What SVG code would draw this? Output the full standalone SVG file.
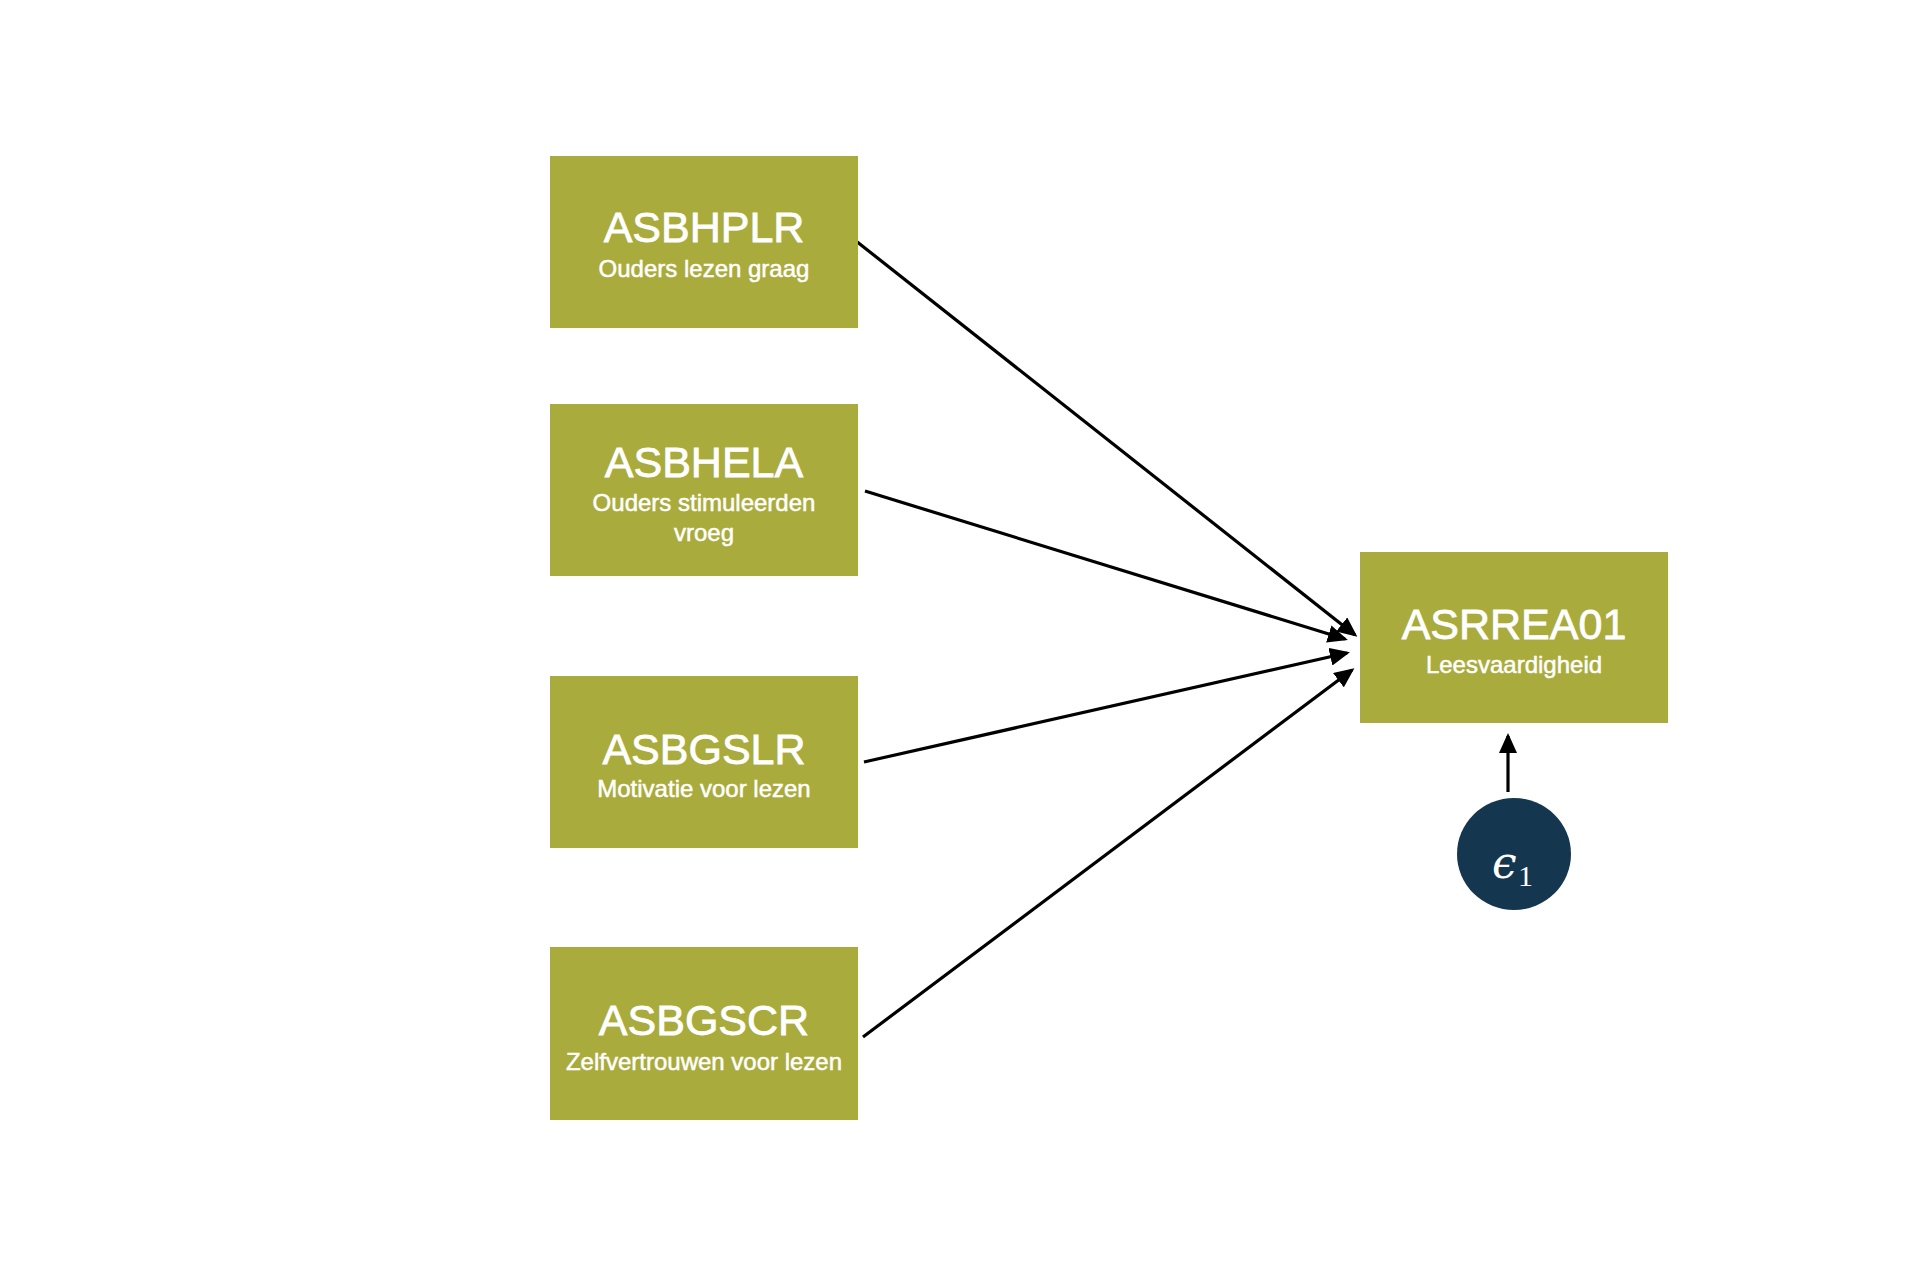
<svg xmlns="http://www.w3.org/2000/svg" width="1916" height="1274" viewBox="0 0 1916 1274">
<defs>
<style>
.box{fill:#AAAB3D;}
.t{font-family:"Liberation Sans",Arial,sans-serif;fill:#ffffff;stroke:#ffffff;text-anchor:middle;}
.title{font-size:43px;stroke-width:0.8px;}
.sub{font-size:24px;stroke-width:0.5px;}
.edge{stroke:#000;stroke-width:3.2;fill:none;marker-end:url(#ah);}
</style>
<marker id="ah" markerUnits="userSpaceOnUse" markerWidth="20" markerHeight="18" viewBox="0 0 20 18" refX="17" refY="9" orient="auto">
<path d="M0,0 L20,9 L0,18 Z" fill="#000"/>
</marker>
</defs>
<rect width="1916" height="1274" fill="#ffffff"/>
<g id="connectors">
<line class="edge" x1="856" y1="241" x2="1355" y2="635"/>
<line class="edge" x1="865" y1="491" x2="1345" y2="639"/>
<line class="edge" x1="864" y1="762" x2="1347" y2="653"/>
<line class="edge" x1="863" y1="1037" x2="1352" y2="670"/>
<line class="edge" x1="1508" y1="792" x2="1508" y2="736"/>
</g>
<g id="ASBHPLR">
<rect class="box" x="550" y="156" width="308" height="172"/>
<text class="t title" x="704" y="242">ASBHPLR</text>
<text class="t sub" x="704" y="277">Ouders lezen graag</text>
</g>
<g id="ASBHELA">
<rect class="box" x="550" y="404" width="308" height="172"/>
<text class="t title" x="704" y="477">ASBHELA</text>
<text class="t sub" x="704" y="511">Ouders stimuleerden</text>
<text class="t sub" x="704" y="541">vroeg</text>
</g>
<g id="ASBGSLR">
<rect class="box" x="550" y="676" width="308" height="172"/>
<text class="t title" x="704" y="764">ASBGSLR</text>
<text class="t sub" x="704" y="797">Motivatie voor lezen</text>
</g>
<g id="ASBGSCR">
<rect class="box" x="550" y="947" width="308" height="173"/>
<text class="t title" x="704" y="1035">ASBGSCR</text>
<text class="t sub" x="704" y="1070">Zelfvertrouwen voor lezen</text>
</g>
<g id="ASRREA01">
<rect class="box" x="1360" y="552" width="308" height="171"/>
<text class="t title" x="1514" y="639">ASRREA01</text>
<text class="t sub" x="1514" y="673">Leesvaardigheid</text>
</g>
<g id="epsilon1">
<ellipse cx="1514" cy="854" rx="57" ry="56" fill="#15364F"/>
<text x="1492" y="878" font-family="'DejaVu Serif','Liberation Serif',serif" font-style="italic" font-size="44" fill="#ffffff">ϵ</text>
<text x="1518" y="886" font-family="'Liberation Serif','Times New Roman',serif" font-size="30" fill="#ffffff">1</text>
</g>
</svg>
